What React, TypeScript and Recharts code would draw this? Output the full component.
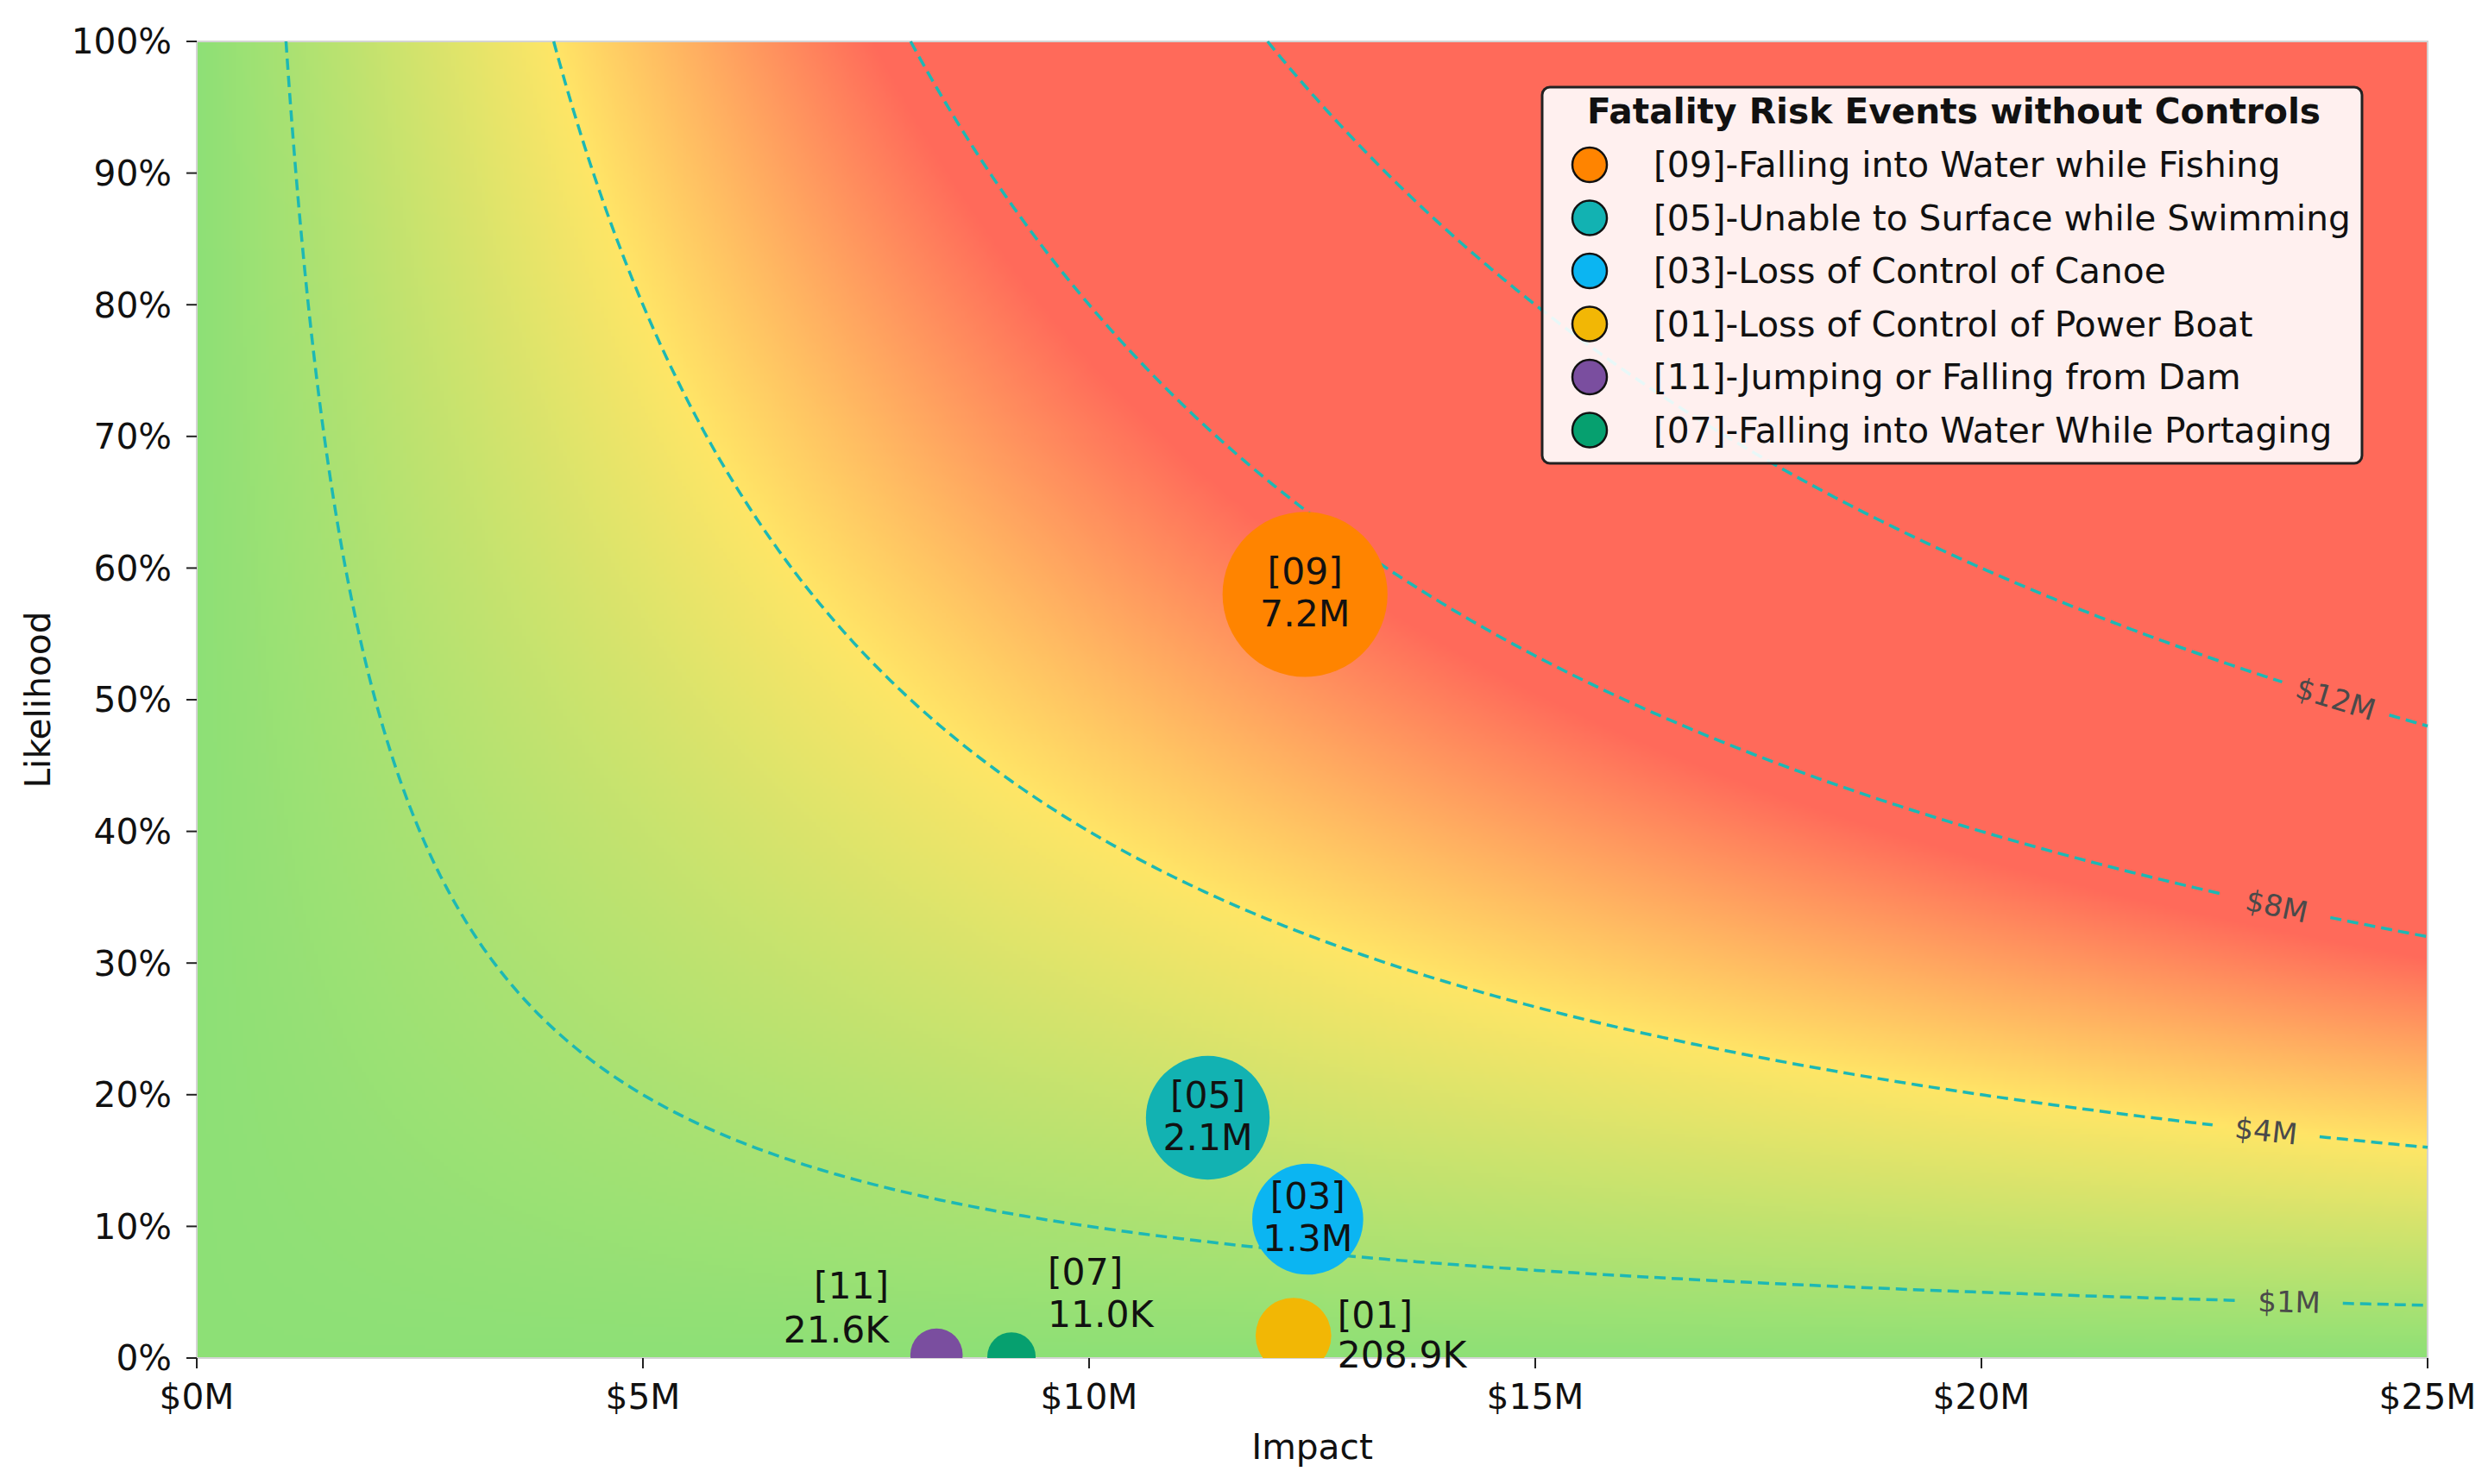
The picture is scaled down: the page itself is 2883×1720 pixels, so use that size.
import React, { useMemo } from 'react';
import { ComposedChart, Line, Scatter, XAxis, YAxis, ReferenceArea, Legend } from 'recharts';

// risk events, in legend order (highest risk first)
const eventIds = ['09', '05', '03', '01', '11', '07'];
const eventNames = [
  'Falling into Water while Fishing',
  'Unable to Surface while Swimming',
  'Loss of Control of Canoe',
  'Loss of Control of Power Boat',
  'Jumping or Falling from Dam',
  'Falling into Water While Portaging',
];
const impactM = [12.42, 11.33, 12.45, 12.29, 8.29, 9.13];
const likelihoodPct = [58.0, 18.25, 10.55, 1.7, 0.26, 0.12];
const riskValues = [7.2e6, 2.1e6, 1.3e6, 208.9e3, 21.6e3, 11.0e3];
const eventColors = ['#FF8400', '#12B2B2', '#0BB5F2', '#F2B705', '#7A4E9F', '#06A06F'];

// iso-risk contour levels ($M)
const riskLevelsM = [1, 4, 8, 12];

const xTicks = [0, 5, 10, 15, 20, 25];
const yTicks = [0, 10, 20, 30, 40, 50, 60, 70, 80, 90, 100];

const W = 2883;
const H = 1720;
const PLOT_LEFT = 228;
const PLOT_TOP = 48;
const PLOT_RIGHT = 2813;
const PLOT_BOTTOM = 1574;
const Y_AXIS_W = 218;
const X_AXIS_H = 120;
const PX_PER_M = (PLOT_RIGHT - PLOT_LEFT) / 25;
const PX_PER_PCT = (PLOT_BOTTOM - PLOT_TOP) / 100;
const FONT = '"DejaVu Sans", sans-serif';
const TEXT_SIZE = 40.7;

// where the contour labels sit along each curve (x in $M), and the line gap around them
const contourLabelAt: Record<number, number> = { 1: 23.45, 4: 23.19, 8: 23.31, 12: 23.97 };
const LABEL_GAP = 0.6;

// text placement for the small bubbles (px offsets from centre)
const labelPlacement: Record<string, { anchor: string; dx: number; dy: [number, number] }> = {
  '11': { anchor: 'end', dx: -55, dy: [-80, -29] },
  '07': { anchor: 'start', dx: 42, dy: [-98, -49] },
  '01': { anchor: 'start', dx: 51, dy: [-24, 22] },
};
const insidePlacement = { anchor: 'middle', dx: 0, dy: [-27, 22] as [number, number] };

const colorStops: [number, [number, number, number]][] = [
  [0, [141, 224, 118]],
  [4, [255, 229, 102]],
  [7.6, [255, 106, 90]],
];

function riskColor(v: number) {
  if (v <= colorStops[0][0]) return colorStops[0][1];
  for (let i = 1; i < colorStops.length; i++) {
    const [v1, c1] = colorStops[i];
    if (v <= v1) {
      const [v0, c0] = colorStops[i - 1];
      const t = (v - v0) / (v1 - v0);
      return [0, 1, 2].map((j) => c0[j] + (c1[j] - c0[j]) * t);
    }
  }
  return colorStops[colorStops.length - 1][1];
}

function buildHeatmap() {
  const cw = 600;
  const ch = 360;
  const canvas = document.createElement('canvas');
  canvas.width = cw;
  canvas.height = ch;
  const ctx = canvas.getContext('2d');
  if (!ctx) return '';
  const img = ctx.createImageData(cw, ch);
  for (let j = 0; j < ch; j++) {
    const y = 1 - (j + 0.5) / ch;
    for (let i = 0; i < cw; i++) {
      const x = ((i + 0.5) / cw) * 25;
      const c = riskColor(x * y);
      const p = (j * cw + i) * 4;
      img.data[p] = c[0];
      img.data[p + 1] = c[1];
      img.data[p + 2] = c[2];
      img.data[p + 3] = 255;
    }
  }
  ctx.putImageData(img, 0, 0);
  return canvas.toDataURL();
}

function contourPoints(k: number) {
  const xl = contourLabelAt[k];
  const pts: { x: number; y: number | null }[] = [];
  const n = 240;
  let gapDone = false;
  for (let i = 0; i <= n; i++) {
    const x = k * Math.pow(25 / k, i / n);
    if (x > xl - LABEL_GAP && x < xl + LABEL_GAP) {
      if (!gapDone) {
        pts.push({ x: xl - LABEL_GAP, y: (100 * k) / (xl - LABEL_GAP) });
        pts.push({ x: xl, y: null });
        pts.push({ x: xl + LABEL_GAP, y: (100 * k) / (xl + LABEL_GAP) });
        gapDone = true;
      }
      continue;
    }
    pts.push({ x, y: (100 * k) / x });
  }
  return pts;
}

function fmtRisk(v: number) {
  return v >= 1e6 ? `${(v / 1e6).toFixed(1)}M` : `${(v / 1e3).toFixed(1)}K`;
}

const Bubble = (props: any) => {
  const { cx, cy, payload } = props;
  if (cx == null || cy == null) return null;
  const r = Math.sqrt(443 + 3.24 * Math.sqrt(payload.risk));
  const pl = labelPlacement[payload.id] ?? insidePlacement;
  return (
    <g>
      <circle cx={cx} cy={cy} r={r} fill={payload.color} clipPath="url(#plot-clip)" />
      <text
        textAnchor={pl.anchor}
        fontSize={42.5}
        fontFamily={FONT}
        fill="#111"
        dominantBaseline="central"
      >
        <tspan x={cx + pl.dx} y={cy + pl.dy[0]}>{`[${payload.id}]`}</tspan>
        <tspan x={cx + pl.dx} y={cy + pl.dy[1]}>{fmtRisk(payload.risk)}</tspan>
      </text>
    </g>
  );
};

const ContourLabel = (props: any) => {
  const { cx, cy, payload } = props;
  if (cx == null || cy == null) return null;
  const slope = ((100 * payload.k) / (payload.x * payload.x)) * (PX_PER_PCT / PX_PER_M);
  const ang = (Math.atan(slope) * 180) / Math.PI;
  return (
    <text
      x={cx}
      y={cy}
      transform={`rotate(${ang} ${cx} ${cy})`}
      textAnchor="middle"
      dominantBaseline="central"
      fontSize={34}
      fontFamily={FONT}
      fill="#4a4a4a"
    >
      {`$${payload.k}M`}
    </text>
  );
};

const LegendBox = () => (
  <svg width={954} height={440} style={{ display: 'block', fontFamily: FONT }}>
    <rect x={2} y={2} width={950} height={436} rx={9} fill="rgba(255,255,255,0.9)" stroke="#222" strokeWidth={3} />
    <text x={479} y={30} textAnchor="middle" dominantBaseline="central" fontSize={TEXT_SIZE} fontWeight="bold" fill="#111">
      Fatality Risk Events without Controls
    </text>
    {eventIds.map((id, i) => (
      <g key={id}>
        <circle cx={57} cy={92 + 61.5 * i} r={20} fill={eventColors[i]} stroke="#111" strokeWidth={2.5} />
        <text x={131} y={92 + 61.5 * i} dominantBaseline="central" fontSize={TEXT_SIZE} fill="#111">
          {`[${id}]-${eventNames[i]}`}
        </text>
      </g>
    ))}
  </svg>
);

export default function App() {
  const heatUrl = useMemo(() => buildHeatmap(), []);

  const events = eventIds.map((id, i) => ({
    id,
    name: `[${id}]-${eventNames[i]}`,
    x: impactM[i],
    y: likelihoodPct[i],
    risk: riskValues[i],
    color: eventColors[i],
  }));

  const contourLabels = riskLevelsM.map((k) => {
    const x = contourLabelAt[k];
    return { k, x, y: (100 * k) / x };
  });

  const HeatShape = (p: any) => {
    const { x, y, width, height } = p;
    return (
      <g>
        <defs>
          <clipPath id="plot-clip">
            <rect x={x} y={y} width={width} height={height} />
          </clipPath>
        </defs>
        <image href={heatUrl} x={x} y={y} width={width} height={height} preserveAspectRatio="none" />
        <rect x={x} y={y} width={width} height={height} fill="none" stroke="#d4d4d4" strokeWidth={2} />
      </g>
    );
  };

  const tickStyle = { fill: '#111', fontSize: TEXT_SIZE, fontFamily: FONT };

  return (
    <div style={{ position: 'absolute', left: 0, top: 0, background: '#fff' }}>
      <ComposedChart
        width={W}
        height={H}
        margin={{
          top: PLOT_TOP,
          right: W - PLOT_RIGHT,
          bottom: H - PLOT_BOTTOM - X_AXIS_H,
          left: PLOT_LEFT - Y_AXIS_W,
        }}
        style={{ fontFamily: FONT }}
      >
        <XAxis
          type="number"
          dataKey="x"
          domain={[0, 25]}
          ticks={xTicks}
          interval={0}
          tickFormatter={(v: number) => `$${v}M`}
          height={X_AXIS_H}
          axisLine={false}
          tickSize={12}
          tickMargin={18}
          tick={tickStyle}
          tickLine={{ stroke: '#222', strokeWidth: 2 }}
          label={{ value: 'Impact', position: 'insideBottom', offset: 3, style: tickStyle }}
        />
        <YAxis
          type="number"
          dataKey="y"
          domain={[0, 100]}
          ticks={yTicks}
          interval={0}
          tickFormatter={(v: number) => `${v}%`}
          width={Y_AXIS_W}
          axisLine={false}
          tickSize={12}
          tickMargin={17}
          tick={tickStyle}
          tickLine={{ stroke: '#222', strokeWidth: 2 }}
          label={{
            value: 'Likelihood',
            angle: -90,
            position: 'insideLeft',
            offset: 34,
            style: { ...tickStyle, textAnchor: 'middle' },
          }}
        />
        <ReferenceArea x1={0} x2={25} y1={0} y2={100} shape={HeatShape} ifOverflow="visible" />
        {riskLevelsM.map((k) => (
          <Line
            key={`c${k}`}
            data={contourPoints(k)}
            dataKey="y"
            type="linear"
            dot={false}
            activeDot={false}
            stroke="#1DB8B4"
            strokeWidth={3.5}
            strokeDasharray="13 7"
            connectNulls={false}
            legendType="none"
            isAnimationActive={false}
          />
        ))}
        <Scatter data={contourLabels} shape={ContourLabel} legendType="none" isAnimationActive={false} />
        {events.map((e) => (
          <Scatter key={e.id} name={e.name} data={[e]} fill={e.color} shape={Bubble} isAnimationActive={false} />
        ))}
        <Legend
          layout="vertical"
          align="center"
          verticalAlign="middle"
          wrapperStyle={{ left: 1785, top: 99, width: 954, height: 440 }}
          content={() => <LegendBox />}
        />
      </ComposedChart>
    </div>
  );
}
